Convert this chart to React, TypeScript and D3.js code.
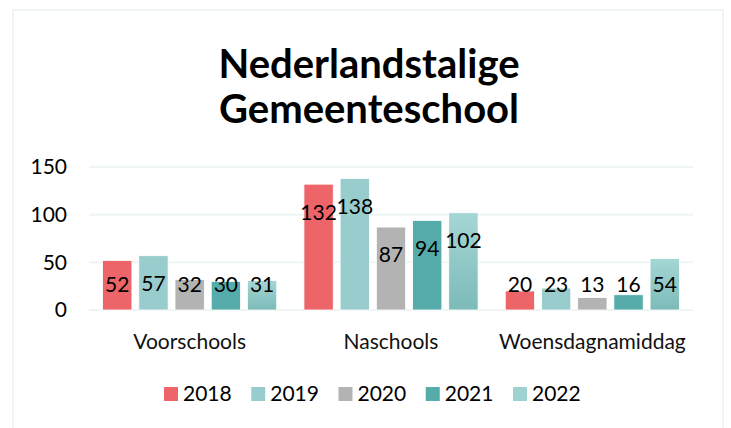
import React from "react";
import * as d3 from "d3";

const categories = ["Voorschools", "Naschools", "Woensdagnamiddag"];
const years = ["2018", "2019", "2020", "2021", "2022"];
const values2018 = [52, 132, 20];
const values2019 = [57, 138, 23];
const values2020 = [32, 87, 13];
const values2021 = [30, 94, 16];
const values2022 = [31, 102, 54];
const yTicks = [0, 50, 100, 150];
const titleLines = ["Nederlandstalige", "Gemeenteschool"];

const series = [values2018, values2019, values2020, values2021, values2022];
const colors = ["#ED6569", "#99CDCD", "#B3B3B3", "#55ACAA", "url(#grad2022)"];
const legendColors = ["#ED6569", "#99CDCD", "#B3B3B3", "#55ACAA", "#9ED2D0"];

const W = 731;
const H = 428;
const font = "Lato, 'Open Sans', sans-serif";
const fs = 21;

const App = () => {
  const x0 = d3.scaleBand().domain(categories).range([89, 693]).paddingInner(0.135).paddingOuter(0.0675);
  const x1 = d3.scaleBand().domain(years).range([0, x0.bandwidth()]).paddingInner(0.19);
  const y = d3.scaleLinear().domain([0, 150]).range([310, 167]);

  const legendX = d3.scalePoint().domain(years).range([164, 513]);

  return (
    <svg width={W} height={H} style={{ position: "absolute", left: 0, top: 0, background: "#fff" }}>
      <defs>
        <linearGradient id="grad2022" x1="0" y1="0" x2="0" y2="1">
          <stop offset="0" stopColor="#A5D6D4" />
          <stop offset="1" stopColor="#7CBBB9" />
        </linearGradient>
      </defs>
      {/* chart frame */}
      <rect x={13} y={10} width={710} height={430} fill="#fff" stroke="#EEF5F4" strokeWidth={2} />

      {/* title */}
      <text x={369} textAnchor="middle" fontFamily={font} fontWeight="bold" fontSize={40} fill="#000">
        <tspan x={369} y={78}>{titleLines[0]}</tspan>
        <tspan x={369} y={123}>{titleLines[1]}</tspan>
      </text>

      {/* gridlines + y labels */}
      {yTicks.map(t => (
        <g key={t}>
          <line x1={89} x2={693} y1={y(t)} y2={y(t)} stroke="#EEF5F4" strokeWidth={2} />
          <text x={67} y={y(t)} dy="0.35em" textAnchor="end" fontFamily={font} fontSize={fs} fill="#000">{t}</text>
        </g>
      ))}

      {/* bars */}
      {categories.map((c, ci) => (
        <g key={c} transform={`translate(${x0(c)},0)`}>
          {years.map((yr, si) => {
            const v = series[si][ci];
            const bx = x1(yr)!;
            const top = y(v);
            const labelY = Math.min(top + 28, y(0) - 25);
            return (
              <g key={yr}>
                <rect x={bx} y={top} width={x1.bandwidth()} height={y(0) - top} fill={colors[si]} stroke="#fff" strokeWidth={0.8} />
                <text x={bx + x1.bandwidth() / 2} y={labelY} dy="0.35em" textAnchor="middle" fontFamily={font} fontSize={fs} fill="#000">{v}</text>
              </g>
            );
          })}
          <text x={x0.bandwidth() / 2} y={342} dy="0.35em" textAnchor="middle" fontFamily={font} fontSize={fs} fill="#111">{c}</text>
        </g>
      ))}

      {/* legend */}
      {years.map((yr, i) => (
        <g key={yr} transform={`translate(${legendX(yr)},387)`}>
          <rect width={14} height={14} fill={legendColors[i]} />
          <text x={19} y={7} dy="0.35em" fontFamily={font} fontSize={fs} fill="#000">{yr}</text>
        </g>
      ))}
    </svg>
  );
};

export default App;
